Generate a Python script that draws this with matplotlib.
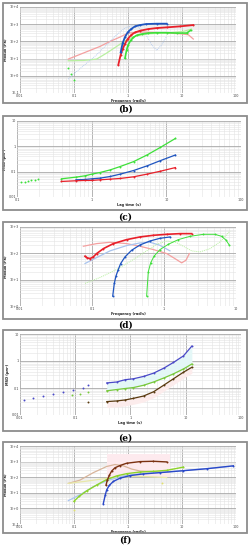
import matplotlib
matplotlib.use("Agg")
import matplotlib.pyplot as plt
from matplotlib.patches import Rectangle
from matplotlib.ticker import LogLocator, NullFormatter

W, H = 251, 550

# ---------------- data: panel (b) ----------------
b_pink_x = [0.0785, 0.149, 0.303, 0.465, 0.711, 1.01, 1.67, 2.94, 5.2, 9.2, 13.1, 16.2]
b_pink_y = [9.4, 21, 51, 100, 179, 305, 350, 334, 305, 280, 244, 137]
b_lblue_x = [0.0785, 0.112, 0.172, 0.263, 0.403, 0.617, 0.879, 1.17, 1.55, 2.07, 2.74, 3.40, 4.20, 5.20]
b_lblue_y = [0.64, 1.79, 5.5, 16.7, 64, 244, 598, 818, 684, 305, 64, 30, 64, 195]
b_pgreen_x = [0.0785, 0.149, 0.263, 0.403, 0.617, 0.945, 1.44, 2.55, 5.2, 10.6, 15.0]
b_pgreen_y = [7.5, 7.8, 9.4, 21, 51, 125, 214, 280, 305, 383, 522]
b_green_lo_x = [0.0785, 0.0867, 0.1]
b_green_lo_y = [2.8, 1.3, 0.58]
b_green_x = [0.879, 0.945, 1.01, 1.12, 1.26, 1.44, 1.79, 2.38, 3.40, 5.2, 7.97, 12.2, 14.4]
b_green_y = [10.7, 32.7, 64, 114, 171, 224, 267, 305, 320, 320, 305, 305, 437]
b_red_x = [0.662, 0.731, 0.796, 0.879, 0.986, 1.14, 1.35, 1.67, 2.38, 3.40, 5.2, 9.2, 16.2]
b_red_y = [4.4, 16.7, 35.7, 73, 137, 234, 334, 418, 522, 598, 655, 749, 893]
b_blue_x = [0.731, 0.796, 0.879, 0.986, 1.14, 1.35, 1.67, 2.17, 3.40, 5.2]
b_blue_y = [22.9, 80, 179, 334, 522, 749, 893, 1023, 1070, 1070]

# ---------------- data: panel (c) ----------------
c_green_lo_x = [0.114, 0.127, 0.141, 0.156, 0.173, 0.192]
c_green_lo_y = [0.0387, 0.0399, 0.0424, 0.0450, 0.0477, 0.0507]
c_green_x = [0.394, 0.615, 0.813, 1.0, 1.29, 1.77, 2.40, 3.64, 5.5, 8.3, 13.2]
c_green_y = [0.0522, 0.0608, 0.0686, 0.0797, 0.0925, 0.1175, 0.159, 0.249, 0.454, 0.905, 2.04]
c_blue_x = [0.615, 0.813, 1.0, 1.29, 1.77, 2.40, 3.64, 5.5, 8.3, 13.2]
c_blue_y = [0.0477, 0.0492, 0.0522, 0.0555, 0.0645, 0.0797, 0.111, 0.169, 0.272, 0.454]
c_red_x = [0.394, 0.615, 0.813, 1.0, 1.29, 1.77, 2.40, 3.64, 5.5, 8.3, 13.2]
c_red_y = [0.0411, 0.0437, 0.0450, 0.0450, 0.0477, 0.0507, 0.0538, 0.0627, 0.0797, 0.104, 0.145]

# ---------------- data: panel (d) ----------------
d_red_x = [0.080, 0.086, 0.094, 0.104, 0.116, 0.144, 0.198, 0.303, 0.464, 0.711, 1.09, 1.67, 2.42]
d_red_y = [77.6, 67.1, 63.4, 73.3, 98, 151, 234, 332, 419, 484, 528, 560, 560]
d_pink_x = [0.0759, 0.116, 0.178, 0.303, 0.464, 0.711, 1.09, 1.42, 1.76, 2.02, 2.25]
d_pink_y = [186, 234, 263, 234, 186, 139, 98, 63, 43.5, 54.8, 98]
d_lblue_x = [0.080, 0.116, 0.178, 0.303, 0.464, 0.640, 0.879, 1.21]
d_lblue_y = [41, 69, 124, 197, 248, 263, 202, 124]
d_blue_x = [0.194, 0.204, 0.215, 0.230, 0.250, 0.287, 0.355, 0.464, 0.640, 0.879, 1.21]
d_blue_y = [2.38, 7.2, 13.6, 23, 41, 73, 131, 208, 295, 372, 419]
d_green_x = [0.574, 0.605, 0.653, 0.726, 0.879, 1.15, 1.58, 2.30, 3.52, 5.1, 6.3, 7.3, 8.1]
d_green_y = [2.38, 19.9, 43.5, 77.6, 139, 221, 332, 443, 528, 528, 443, 313, 202]
d_pgreen_x = [0.080, 0.129, 0.220, 0.375, 0.574, 0.791, 1.09, 1.42, 1.86, 2.42, 3.16, 4.36, 6.0, 8.26]
d_pgreen_y = [7.2, 12.1, 24.3, 58, 124, 221, 295, 271, 186, 124, 113, 151, 271, 706]

# ---------------- data: panel (e) ----------------
e_blue_lo_x = [0.0118, 0.0175, 0.0265, 0.0402, 0.061, 0.0926, 0.141, 0.173]
e_blue_lo_y = [0.0361, 0.0415, 0.0504, 0.0596, 0.0704, 0.0832, 0.104, 0.126]
e_x = [0.372, 0.565, 0.80, 1.13, 1.72, 2.61, 3.97, 6.0, 9.1, 12.9]
e_blue_y = [0.154, 0.167, 0.203, 0.220, 0.268, 0.354, 0.537, 0.887, 1.55, 3.57]
e_green_lo_x = [0.0865, 0.122, 0.173]
e_green_lo_y = [0.0548, 0.0596, 0.0724]
e_green_y = [0.0787, 0.0879, 0.0957, 0.104, 0.126, 0.167, 0.233, 0.335, 0.508, 0.773]
e_brown_lo_x = [0.173]
e_brown_lo_y = [0.0297]
e_brown_y = [0.0314, 0.0332, 0.0361, 0.0415, 0.0504, 0.0724, 0.126, 0.220, 0.385, 0.585]

# ---------------- data: panel (f) ----------------
f_tan_x = [0.0785, 0.129, 0.228, 0.403, 0.574, 0.820, 1.17, 1.67, 2.55, 3.91]
f_tan_y = [40, 65, 196, 487, 650, 536, 332, 249, 237, 215]
f_brown_x = [0.392, 0.414, 0.451, 0.499, 0.574, 0.711, 0.944, 1.67, 2.94, 5.2]
f_brown_y = [31.6, 65, 133, 249, 402, 562, 787, 1000, 1049, 953]
f_yel_x = [0.0785, 0.172, 0.349, 0.711, 1.44, 2.94, 5.2]
f_yel_y = [40, 56, 79, 105, 115, 105, 95]
f_lblue_x = [0.0785, 0.129, 0.228, 0.403, 0.820, 1.67, 5.2, 21.5, 89]
f_lblue_y = [3.16, 7.5, 24.9, 59, 121, 169, 215, 332, 511]
f_lime_x = [0.1, 0.124, 0.172, 0.263, 0.403, 0.617, 0.945, 1.67, 2.94, 5.2, 10.6]
f_lime_y = [2.87, 5.9, 13.3, 31.6, 71, 121, 169, 215, 237, 274, 443]
f_single_x = [0.1, 4.2]
f_single_y = [0.79, 40]
f_blue_x = [0.349, 0.380, 0.403, 0.451, 0.535, 0.711, 1.09, 1.92, 3.91, 10.6, 28.6, 89]
f_blue_y = [2.05, 7.5, 15.4, 30.1, 53.6, 86.6, 127, 162, 196, 261, 348, 536]

freq_ticks4 = [0.01, 0.1, 1, 10, 100]
freq_labels4 = ["0.01", "0.1", "1", "10", "100"]

fig = plt.figure(figsize=(W / 100, H / 100), dpi=100)
fig.patch.set_facecolor("white")


def frame(x0, y0, x1, y1):
    fig.add_artist(Rectangle((x0 / W, 1 - y1 / H), (x1 - x0) / W, (y1 - y0) / H,
                             transform=fig.transFigure, fill=False,
                             edgecolor="#8c8c8c", linewidth=1.3))


def make_ax(x0, y0, x1, y1, xlim, ylim, xlabel, ylabel):
    ax = fig.add_axes([x0 / W, 1 - y1 / H, (x1 - x0) / W, (y1 - y0) / H])
    ax.set_xscale("log")
    ax.set_yscale("log")
    ax.set_xlim(*xlim)
    ax.set_ylim(*ylim)
    ax.xaxis.set_minor_locator(LogLocator(base=10, subs=range(2, 10), numticks=50))
    ax.yaxis.set_minor_locator(LogLocator(base=10, subs=range(2, 10), numticks=50))
    ax.xaxis.set_minor_formatter(NullFormatter())
    ax.yaxis.set_minor_formatter(NullFormatter())
    ax.grid(True, which="major", color="#a8a8a8", linewidth=0.6)
    ax.grid(True, which="minor", color="#e3e3e3", linewidth=0.4)
    ax.set_axisbelow(True)
    for s in ax.spines.values():
        s.set_visible(False)
    ax.tick_params(which="both", length=0, labelsize=2.4, pad=0.8, colors="#444444")
    ax.set_xlabel(xlabel, fontsize=2.5, labelpad=0.4, color="#222222", fontweight="bold")
    ax.set_ylabel(ylabel, fontsize=2.5, labelpad=1.0, color="#222222", fontweight="bold")
    return ax


def set_ticks(ax, xt, xl, yt, yl):
    ax.set_xticks(xt)
    ax.set_xticklabels(xl)
    ax.set_yticks(yt)
    ax.set_yticklabels(yl)


def caption(y, text):
    fig.text(0.5, 1 - y / H, text, ha="center", va="center", fontsize=6.5,
             fontweight="bold", family="DejaVu Serif")


RED = "#e8202a"
BLUE = "#1f55c0"
GREEN = "#3ee03a"
PINK = "#f4a0a0"
LBLUE = "#a9c4ee"
PGREEN = "#b8f0a0"
ms = 1.4

# ---- (b) ----
frame(3, 3, 247, 103)
ax = make_ax(20, 7, 236, 93, (0.01, 100), (0.1, 1e4), "Frequency (rad/s)", "Moduli (Pa)")
set_ticks(ax, freq_ticks4, freq_labels4, [0.1, 1, 10, 100, 1000, 1e4],
          ["1E-1", "1E+0", "1E+1", "1E+2", "1E+3", "1E+4"])
ax.plot(b_pink_x, b_pink_y, color=PINK, lw=0.9)
ax.plot(b_pgreen_x, b_pgreen_y, color=PGREEN, lw=0.9)
ax.plot(b_lblue_x, b_lblue_y, color=LBLUE, lw=0.6, ls=(0, (1, 1.2)))
ax.plot(b_green_lo_x, b_green_lo_y, "o", color=GREEN, ms=ms, mew=0)
ax.plot(b_green_x, b_green_y, "o-", color=GREEN, ms=ms, lw=1.2, mew=0)
ax.plot(b_red_x, b_red_y, "o-", color=RED, ms=ms, lw=1.3, mew=0)
ax.plot(b_blue_x, b_blue_y, "o-", color=BLUE, ms=ms, lw=1.3, mew=0)
caption(109, "(b)")

# ---- (c) ----
frame(3, 116, 247, 210)
ax = make_ax(17, 121, 241, 197, (0.1, 100), (0.01, 10), "Lag time (s)", "MSD (µm²)")
set_ticks(ax, [0.1, 1, 10, 100], ["0.1", "1", "10", "100"], [0.01, 0.1, 1, 10],
          ["0.01", "0.1", "1", "10"])
ax.plot(c_green_lo_x, c_green_lo_y, "o", color=GREEN, ms=ms, mew=0)
ax.plot(c_green_x, c_green_y, "o-", color=GREEN, ms=ms, lw=0.9, mew=0)
ax.plot(c_blue_x, c_blue_y, "o-", color=BLUE, ms=ms, lw=0.9, mew=0)
ax.plot(c_red_x, c_red_y, "o-", color=RED, ms=ms, lw=0.9, mew=0)
caption(217, "(c)")

# ---- (d) ----
frame(3, 222, 247, 319)
ax = make_ax(20, 227, 236, 306, (0.01, 10), (1, 1000), "Frequency (rad/s)", "Moduli (Pa)")
set_ticks(ax, [0.01, 0.1, 1, 10], ["0.01", "0.1", "1", "10"], [1, 10, 100, 1000],
          ["1E+0", "1E+1", "1E+2", "1E+3"])
ax.plot(d_pink_x, d_pink_y, color=PINK, lw=0.9)
ax.plot(d_lblue_x, d_lblue_y, color=LBLUE, lw=0.9)
ax.plot(d_pgreen_x, d_pgreen_y, color=PGREEN, lw=0.7, ls=(0, (1, 1)))
ax.plot(d_red_x, d_red_y, "o-", color=RED, ms=ms, lw=1.2, mew=0)
ax.plot(d_blue_x, d_blue_y, "o-", color=BLUE, ms=ms, lw=0.9, mew=0)
ax.plot(d_green_x, d_green_y, "o-", color=GREEN, ms=ms, lw=0.7, mew=0)
caption(325, "(d)")

# ---- (e) ----
frame(3, 330, 247, 431)
ax = make_ax(20, 334, 241, 415, (0.01, 100), (0.01, 10), "Lag time (s)", "MSD (µm²)")
set_ticks(ax, freq_ticks4, freq_labels4, [0.01, 0.1, 1, 10], ["0.01", "0.1", "1", "10"])
ax.fill_between(e_x, e_green_y, e_blue_y, color="#e4f7f7", lw=0)
ax.fill_between(e_x, [v * 0.6 for v in e_brown_y], e_brown_y, color="#fcecec", lw=0)
E_BLUE = "#4a4ac8"
E_GREEN = "#78c83c"
E_BROWN = "#5a3a10"
ax.plot(e_blue_lo_x, e_blue_lo_y, "o", color=E_BLUE, ms=ms, mew=0)
ax.plot(e_x, e_blue_y, "o-", color=E_BLUE, ms=ms, lw=0.9, mew=0)
ax.plot(e_green_lo_x, e_green_lo_y, "o", color=E_GREEN, ms=ms, mew=0)
ax.plot(e_x, e_green_y, "o-", color=E_GREEN, ms=ms, lw=0.9, mew=0)
ax.plot(e_brown_lo_x, e_brown_lo_y, "o", color=E_BROWN, ms=ms, mew=0)
ax.plot(e_x, e_brown_y, "o-", color=E_BROWN, ms=ms, lw=0.9, mew=0)
caption(438, "(e)")

# ---- (f) ----
frame(3, 442, 247, 533)
ax = make_ax(20, 446, 236, 524, (0.01, 100), (0.1, 1e4), "Frequency (rad/s)", "Moduli (Pa)")
set_ticks(ax, freq_ticks4, freq_labels4, [0.1, 1, 10, 100, 1000, 1e4],
          ["1E-1", "1E+0", "1E+1", "1E+2", "1E+3", "1E+4"])
ax.fill_between([0.4, 6.0], [100, 100], [3000, 3000], color="#fdeaee", lw=0)
ax.plot(f_tan_x, f_tan_y, color="#d8b49a", lw=0.9)
ax.plot(f_yel_x, f_yel_y, color="#e8e8a8", lw=0.9)
ax.plot(f_lblue_x, f_lblue_y, color=LBLUE, lw=0.9)
ax.plot(f_lime_x, f_lime_y, "o-", color="#8cd42a", ms=ms, lw=1.0, mew=0)
ax.plot(f_single_x, f_single_y, "o", color="#e0e070", ms=ms, mew=0)
ax.plot(f_brown_x, f_brown_y, "o-", color="#7a3010", ms=ms, lw=1.0, mew=0)
ax.plot(f_blue_x, f_blue_y, "o-", color="#2a48c8", ms=ms, lw=1.0, mew=0)
caption(540, "(f)")

fig.savefig("out.png", dpi=100, facecolor="white")
